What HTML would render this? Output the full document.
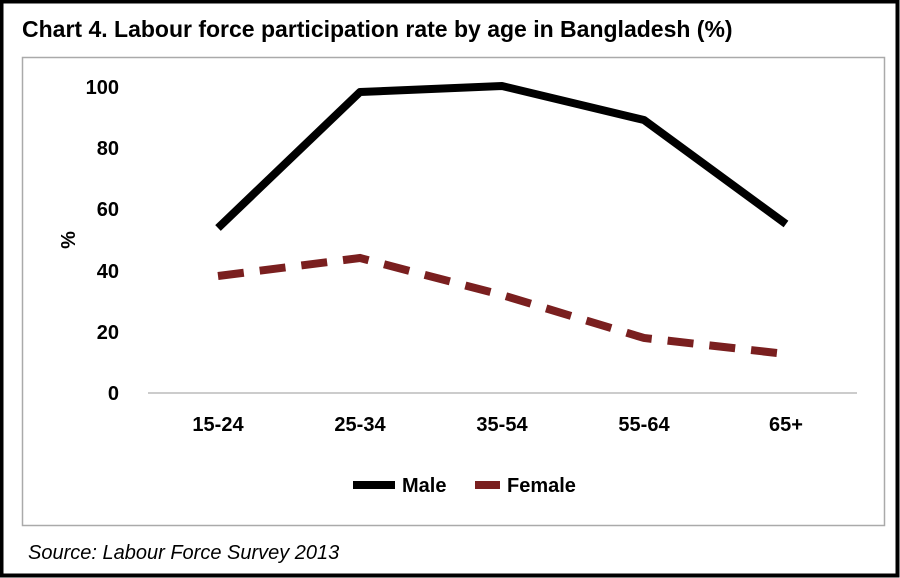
<!DOCTYPE html>
<html><head><meta charset="utf-8"><style>
html,body{margin:0;padding:0;background:#fff;}
svg{display:block;}
</style></head><body>
<svg width="900" height="578" viewBox="0 0 900 578" xmlns="http://www.w3.org/2000/svg" font-family="Liberation Sans, sans-serif">
<rect x="1.5" y="1.5" width="896" height="574" fill="#fff" stroke="#000" stroke-width="4"/>
<text x="22" y="37" font-size="23" font-weight="bold" fill="#000">Chart 4. Labour force participation rate by age in Bangladesh (%)</text>
<rect x="22.5" y="57.5" width="862" height="468" fill="#fff" stroke="#aaa" stroke-width="1.5"/>
<g font-size="20" font-weight="bold" fill="#000" text-anchor="end">
<text x="119" y="400">0</text>
<text x="119" y="339">20</text>
<text x="119" y="278">40</text>
<text x="119" y="216">60</text>
<text x="119" y="155">80</text>
<text x="119" y="94">100</text>
</g>
<text x="0" y="0" font-size="20" font-weight="bold" transform="translate(75,240) rotate(-90)" text-anchor="middle">%</text>
<line x1="148" y1="393" x2="857" y2="393" stroke="#bbb" stroke-width="1.5"/>
<g font-size="20" font-weight="bold" text-anchor="middle">
<text x="218" y="431">15-24</text>
<text x="360" y="431">25-34</text>
<text x="502" y="431">35-54</text>
<text x="644" y="431">55-64</text>
<text x="786" y="431">65+</text>
</g>
<polyline points="218,228 360,92 502,86 644,120 786,224" fill="none" stroke="#000" stroke-width="8" stroke-linejoin="round"/>
<polyline points="218,276 360,258 502,295 644,338 786,354" fill="none" stroke="#7a1f1f" stroke-width="8" stroke-dasharray="26,16"/>
<line x1="353" y1="485" x2="395" y2="485" stroke="#000" stroke-width="8"/>
<text x="402" y="492" font-size="20" font-weight="bold">Male</text>
<line x1="475" y1="485" x2="500" y2="485" stroke="#7a1f1f" stroke-width="8"/>
<text x="507" y="492" font-size="20" font-weight="bold">Female</text>
<text x="28" y="559" font-size="20" font-style="italic">Source: Labour Force Survey 2013</text>
</svg>
</body></html>
